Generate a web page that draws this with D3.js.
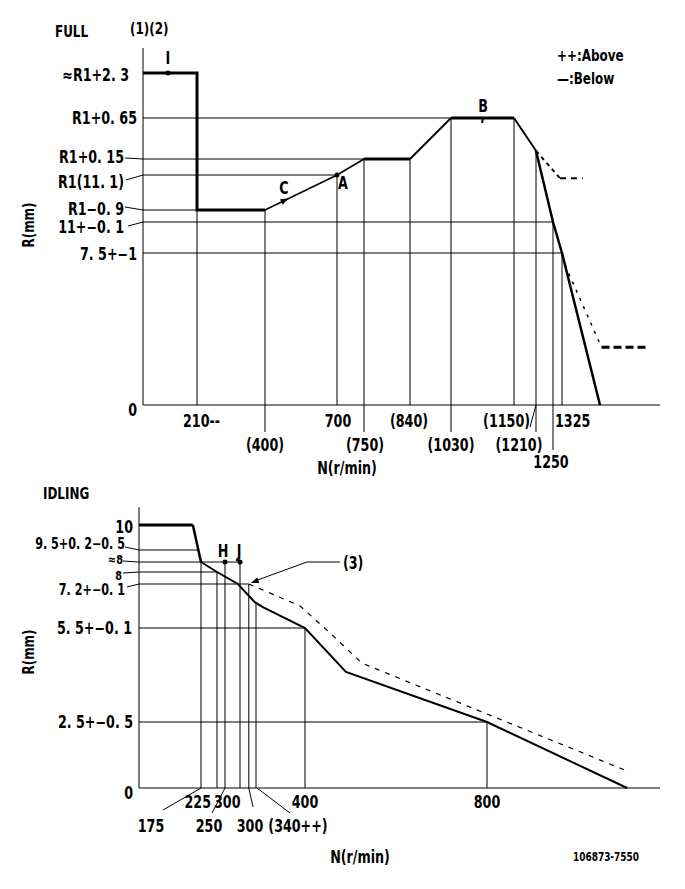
<!DOCTYPE html>
<html><head><meta charset="utf-8">
<script src="https://cdn.jsdelivr.net/npm/d3@7"></script>
<style>
html,body{margin:0;padding:0;background:#fff;}
svg text{font-family:"DejaVu Sans Condensed","Liberation Sans Narrow","Liberation Sans",sans-serif;font-weight:bold;fill:#000;font-size:17px;}
</style></head><body><svg id="c" width="685" height="889"></svg>
<script>
// ================= DATA =================
// FULL chart
const fullYLevels = [0, 1, 2, 3, 4, 5, 6, 7];
const fullYLabels = ["0", "7. 5+−1", "11+−0. 1", "R1−0. 9", "R1(11. 1)", "R1+0. 15", "R1+0. 65", "≈R1+2. 3"];
const fullXTickValues = [210, 400, 700, 750, 840, 1030, 1150, 1210, 1250, 1325];
const fullXTickLabels = ["210--", "(400)", "700", "(750)", "(840)", "(1030)", "(1150)", "(1210)", "1250", "1325"];
const fullXTickTop = [3, 3, 4, 5, 5, 6, 6, 5.2, 2, 1];        // level reached by each vertical grid line
const fullHLineLevels = [1, 2, 3, 4, 5, 6];
const fullHLineEnds = [1325, 1250, 210, 700, 750, 1030];         // N where horizontal grid line meets curve
const fullBelowN = [0, 210, 210, 400, 700, 750, 840, 1030, 1150, 1210, 1250, 1325, 1400];
const fullBelowR = [7, 7, 3, 3, 4, 5, 5, 6, 6, 5.2, 2, 1, 0];
const fullAbove1N = [1210, 1308, 1366];
const fullAbove1R = [5.2, 3.91, 3.91];
const fullAbove2N = [1331, 1405, 1556];
const fullAbove2R = [0.92, 0.38, 0.38];
const fullPointI = [97, 7], fullPointA = [700, 4], fullPointB = [1091, 6], fullPointC = [483, 3.28];

// IDLING chart
const idleYValues = [0, 2.5, 5.5, 7.2, 8, 8.4, 9.5, 10];
const idleYLabels = ["0", "2. 5+−0. 5", "5. 5+−0. 1", "7. 2+−0. 1", "8", "≈8", "9. 5+0. 2−0. 5", "10"];
const idleXTickValues = [175, 225, 250, 300, 322, 340, 400, 800];
const idleXTickLabels = ["175", "225", "250", "300", "300", "(340++)", "400", "800"];
const idleXTickTop = [8.4, 8, 8.4, 8.4, 7.2, 6.5, 5.5, 2.5];
const idleHLineValues = [9.5, 8.4, 8, 7.2, 5.5, 2.5];
const idleHLineEnds = [170, 300, 225, 322, 400, 800];
const idleBelowN = [0, 152, 175, 225, 293, 337, 349, 400, 490, 800, 1043];
const idleBelowR = [10, 10, 8.4, 8, 7.2, 6.5, 6.3, 5.5, 4.1, 2.5, 0];
const idleAboveN = [322, 394, 455, 525, 1039];
const idleAboveR = [7.2, 6.35, 5.34, 4.38, 0.68];
const idlePointH = [250, 8.4], idlePointJ = [300, 8.4];

// ================= SCALES =================
const svg = d3.select("#c");
const fx = d3.scaleLinear().domain([0, 210, 400, 700, 750, 840, 1030, 1150, 1210, 1250, 1325, 1400, 1600])
  .range([143, 197, 265, 337, 364, 410, 451, 514, 536, 553, 562, 600, 660]);
const fy = d3.scaleLinear().domain([0, 1, 2, 3, 4, 5, 6, 7, 7.6])
  .range([405, 253, 222, 210, 175, 159, 118, 73, 48]);
const ix = d3.scaleLinear().domain([0, 175, 225, 250, 300, 340, 400, 800, 1100])
  .range([139, 201, 217, 225, 240, 256, 305, 487, 660]);
const iy = d3.scaleLinear().domain([0, 2.5, 5.5, 7.2, 8, 8.4, 9.5, 10, 10.7])
  .range([788, 722, 628, 584, 572, 562, 550, 525, 507]);

const SX = 0.83;
const zip = (a, b) => a.map((v, i) => [v, b[i]]);
function line(g, pts, X, Y, w, dash) {
  const p = g.append("path").attr("d", d3.line().x(d => X(d[0])).y(d => Y(d[1]))(pts))
    .attr("fill", "none").attr("stroke", "#000").attr("stroke-width", w)
    .attr("stroke-linejoin", "miter");
  if (dash) p.attr("stroke-dasharray", dash);
  return p;
}
function seg(g, x1, y1, x2, y2, w) {
  g.append("line").attr("x1", x1).attr("y1", y1).attr("x2", x2).attr("y2", y2)
    .attr("stroke", "#000").attr("stroke-width", w || 1);
}
function txt(g, x, y, s, anchor, size, rot) {
  const t = g.append("text").attr("dy", "0.36em")
    .attr("transform", `translate(${x},${y})${rot ? " rotate(" + rot + ")" : ""} scale(${SX},1)`)
    .attr("text-anchor", anchor || "middle").text(s);
  if (size) t.style("font-size", size + "px");
  return t;
}

// ================= FULL CHART =================
const gF = svg.append("g");
txt(gF, 55, 31, "FULL", "start", 16);
txt(gF, 130, 28, "(1)(2)", "start", 16);
txt(gF, 557, 55, "++:Above", "start", 16);
txt(gF, 557, 78, "—:Below", "start", 16);
txt(gF, 28, 225, "R(mm)", "middle", 16, -90);

// axes
seg(gF, fx(0), fy(0), fx(0), fy(7.6), 1);
seg(gF, fx(0), fy(0), fx(1600), fy(0), 1);

// horizontal grid lines
fullHLineLevels.forEach((lv, i) => seg(gF, fx(0), fy(lv), fx(fullHLineEnds[i]), fy(lv), 1));
// vertical grid lines (row-2/3 labels get an extension below the axis)
const fullTickRow = [1, 2, 1, 2, 1, 2, 1, 2, 3, 1];
fullXTickValues.forEach((v, i) => {
  const r = fullTickRow[i];
  const bottom = r === 2 ? fy(0) + 27 : (r === 3 ? fy(0) + 45 : fy(0));
  seg(gF, fx(v), bottom, fx(v), fy(fullXTickTop[i]), 1);
});

// y labels
const fullYLab = [
  {x: 137, dy: 5}, {x: 137, dy: 1}, {x: 124, dy: 5, lead: [128, 4]}, {x: 124, dy: -1, lead: [125, -3]},
  {x: 124, dy: 7, lead: [126, 5]}, {x: 124, dy: -2, lead: [125, -1]}, {x: 137, dy: 0}, {x: 129, dy: 2}
];
fullYLevels.forEach((lv, i) => {
  const o = fullYLab[i];
  txt(gF, o.x, fy(lv) + o.dy, fullYLabels[i], "end");
  if (o.lead) seg(gF, o.lead[0], fy(lv) + o.lead[1], fx(0), fy(lv), 1);
});

// x labels
const fullXLab = [
  {dx: -14, y: 421, a: "start"}, {dx: 0, y: 445, a: "middle"}, {dx: 1, y: 421, a: "middle"},
  {dx: 1, y: 445, a: "middle"}, {dx: -1, y: 421, a: "middle"}, {dx: 0, y: 445, a: "middle"},
  {dx: 16, y: 421, a: "end"}, {dx: -17, y: 445, a: "middle"}, {dx: -2, y: 462, a: "middle"},
  {dx: -7, y: 421, a: "start"}
];
fullXTickValues.forEach((v, i) => {
  const o = fullXLab[i];
  txt(gF, fx(v) + o.dx, o.y, fullXTickLabels[i], o.a);
});
seg(gF, fx(1210), fy(0), fx(1210) - 6, fy(0) + 22, 1);  // leader for (1210)
txt(gF, 347, 468, "N(r/min)", "middle");

// curves
const fb = zip(fullBelowN, fullBelowR);
line(gF, fb.slice(0, 4), fx, fy, 3);
line(gF, fb.slice(3, 6), fx, fy, 1.5);
line(gF, fb.slice(5, 7), fx, fy, 3);
line(gF, fb.slice(6, 8), fx, fy, 2);
line(gF, fb.slice(7, 9), fx, fy, 3);
line(gF, fb.slice(8, 10), fx, fy, 2);
line(gF, fb.slice(9), fx, fy, 2.5);
const fa1 = zip(fullAbove1N, fullAbove1R);
line(gF, fa1.slice(0, 2), fx, fy, 2, "4,4");
line(gF, fa1.slice(1), fx, fy, 2, "6,5");
const fa2 = zip(fullAbove2N, fullAbove2R);
line(gF, fa2.slice(0, 2), fx, fy, 1.5, "3,6");
line(gF, fa2.slice(1), fx, fy, 3, "8,4");

// markers
gF.append("circle").attr("cx", fx(fullPointI[0])).attr("cy", fy(fullPointI[1])).attr("r", 2.5);
txt(gF, fx(fullPointI[0]), fy(fullPointI[1]) - 15, "I", "middle");
gF.append("circle").attr("cx", fx(fullPointA[0])).attr("cy", fy(fullPointA[1])).attr("r", 2.5);
txt(gF, fx(fullPointA[0]) + 6, fy(fullPointA[1]) + 8, "A", "middle");
seg(gF, fx(fullPointB[0]), fy(fullPointB[1]), fx(fullPointB[0]) - 1, fy(fullPointB[1]) + 5, 2);
txt(gF, fx(fullPointB[0]), fy(fullPointB[1]) - 12, "B", "middle");
{
  const cx = fx(fullPointC[0]), cy = fy(fullPointC[1]);
  const ang = Math.atan2(fy(4) - fy(3), fx(700) - fx(400)) * 180 / Math.PI;
  gF.append("path").attr("d", "M4,0 L-4,-3 L-4,3 Z").attr("transform", `translate(${cx},${cy}) rotate(${ang})`);
  txt(gF, cx - 1, cy - 12, "C", "middle");
}

// ================= IDLING CHART =================
const gI = svg.append("g");
txt(gI, 43, 493, "IDLING", "start", 16);
txt(gI, 28, 652, "R(mm)", "middle", 16, -90);

seg(gI, ix(0), iy(0), ix(0), iy(10.7), 1);
seg(gI, ix(0), iy(0), ix(1100), iy(0), 1);

idleHLineValues.forEach((v, i) => seg(gI, ix(0), iy(v), ix(idleHLineEnds[i]), iy(v), 1));
idleXTickValues.forEach((v, i) => seg(gI, ix(v), iy(0), ix(v), iy(idleXTickTop[i]), 1));

const idleYLab = [
  {x: 133, dy: 5}, {x: 133, dy: 0}, {x: 132, dy: 0}, {x: 125, dy: 6, lead: [127, 3], s: 15},
  {x: 122, dy: 3, lead: [123, 1], s: 13}, {x: 123, dy: -3, lead: [123, -1], s: 13}, {x: 125, dy: -6, lead: [125, -3], s: 15}, {x: 133, dy: 2}
];
idleYValues.forEach((v, i) => {
  const o = idleYLab[i];
  txt(gI, o.x, iy(v) + o.dy, idleYLabels[i], "end", o.s);
  if (o.lead) seg(gI, o.lead[0], iy(v) + o.lead[1], ix(0), iy(v), 1);
});

const idleXLab = [
  {x: 151, y: 826, a: "middle", lead: [163, 810]}, {x: 211, y: 802, a: "end"},
  {x: 209, y: 826, a: "middle", lead: [212, 813]}, {x: 214, y: 802, a: "start"},
  {x: 250, y: 826, a: "middle", lead: [253, 807]}, {x: 298, y: 826, a: "middle", lead: [290, 813]},
  {x: 0, y: 802, a: "middle"}, {x: 0, y: 802, a: "middle"}
];
idleXTickValues.forEach((v, i) => {
  const o = idleXLab[i];
  txt(gI, o.x || ix(v), o.y, idleXTickLabels[i], o.a);
  if (o.lead) seg(gI, o.lead[0], o.lead[1], ix(v) + (i === 5 ? 1 : 0), iy(0), 1);
});
txt(gI, 360, 857, "N(r/min)", "middle");

const ib = zip(idleBelowN, idleBelowR);
line(gI, ib.slice(0, 2), ix, iy, 3);
line(gI, ib.slice(1, 3), ix, iy, 2.5);
line(gI, ib.slice(2), ix, iy, 2);
line(gI, zip(idleAboveN, idleAboveR), ix, iy, 1.2, "5,6");

[idlePointH, idlePointJ].forEach((p, i) => {
  gI.append("circle").attr("cx", ix(p[0])).attr("cy", iy(p[1])).attr("r", 2.5);
  txt(gI, ix(p[0]) - (i === 0 ? 2 : 1), iy(p[1]) - 11, i === 0 ? "H" : "J", "middle");
});

// (3) annotation pointing to start of "above" curve
{
  const tx = ix(idleAboveN[0]) + 2, ty = iy(idleAboveR[0]) - 1;
  const ex = ix(400) + 2, ey = iy(8.4);
  seg(gI, ex, ey, ex + 33, ey, 1);
  seg(gI, ex, ey, tx + 4, ty - 2, 1);
  const ang = Math.atan2(ty - ey, tx - ex) * 180 / Math.PI;
  gI.append("path").attr("d", "M0,0 L-8,-3 L-8,3 Z").attr("transform", `translate(${tx},${ty}) rotate(${ang})`);
  txt(gI, ex + 36, ey + 1, "(3)", "start");
}

txt(svg, 573, 857, "106873-7550", "start", 12);
</script></body></html>
